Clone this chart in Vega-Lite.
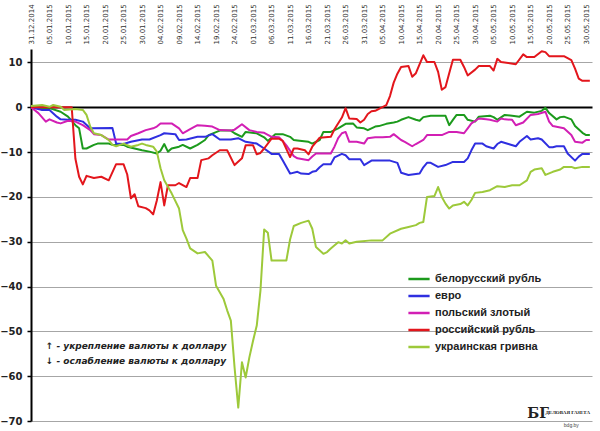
{
  "$schema": "https://vega.github.io/schema/vega-lite/v6.json",
  "description": "Изменение курсов валют к доллару с 31.12.2014 по 31.05.2015, %",
  "width": 561,
  "height": 372,
  "autosize": {"type": "none"},
  "padding": {"left": 31, "top": 49, "right": 8, "bottom": 10},
  "background": "white",
  "config": {"view": {"stroke": null}, "font": "DejaVu Sans"},
  "encoding": {
    "x": {
      "field": "date",
      "type": "temporal",
      "scale": {
        "type": "utc",
        "domain": [
          {"year": 2014, "month": 12, "date": 31, "utc": true},
          {"year": 2015, "month": 5, "date": 31, "hours": 14, "utc": true}
        ]
      },
      "axis": {
        "orient": "top",
        "title": null,
        "format": "%d.%m.%Y",
        "values": [
          {"year": 2014, "month": 12, "date": 31, "utc": true},
          {"year": 2015, "month": 1, "date": 5, "utc": true},
          {"year": 2015, "month": 1, "date": 10, "utc": true},
          {"year": 2015, "month": 1, "date": 15, "utc": true},
          {"year": 2015, "month": 1, "date": 20, "utc": true},
          {"year": 2015, "month": 1, "date": 25, "utc": true},
          {"year": 2015, "month": 1, "date": 30, "utc": true},
          {"year": 2015, "month": 2, "date": 4, "utc": true},
          {"year": 2015, "month": 2, "date": 9, "utc": true},
          {"year": 2015, "month": 2, "date": 14, "utc": true},
          {"year": 2015, "month": 2, "date": 19, "utc": true},
          {"year": 2015, "month": 2, "date": 24, "utc": true},
          {"year": 2015, "month": 3, "date": 1, "utc": true},
          {"year": 2015, "month": 3, "date": 6, "utc": true},
          {"year": 2015, "month": 3, "date": 11, "utc": true},
          {"year": 2015, "month": 3, "date": 16, "utc": true},
          {"year": 2015, "month": 3, "date": 21, "utc": true},
          {"year": 2015, "month": 3, "date": 26, "utc": true},
          {"year": 2015, "month": 3, "date": 31, "utc": true},
          {"year": 2015, "month": 4, "date": 5, "utc": true},
          {"year": 2015, "month": 4, "date": 10, "utc": true},
          {"year": 2015, "month": 4, "date": 15, "utc": true},
          {"year": 2015, "month": 4, "date": 20, "utc": true},
          {"year": 2015, "month": 4, "date": 25, "utc": true},
          {"year": 2015, "month": 4, "date": 30, "utc": true},
          {"year": 2015, "month": 5, "date": 5, "utc": true},
          {"year": 2015, "month": 5, "date": 10, "utc": true},
          {"year": 2015, "month": 5, "date": 15, "utc": true},
          {"year": 2015, "month": 5, "date": 20, "utc": true},
          {"year": 2015, "month": 5, "date": 25, "utc": true},
          {"year": 2015, "month": 5, "date": 30, "utc": true}
        ],
        "labelAngle": 270,
        "labelAlign": "left",
        "labelBaseline": "middle",
        "labelFont": "DejaVu Sans",
        "labelFontSize": 7,
        "labelColor": "#333333",
        "labelPadding": 5,
        "labelOverlap": false,
        "labelFlush": false,
        "domain": false,
        "ticks": false,
        "grid": false
      }
    },
    "y": {
      "field": "value",
      "type": "quantitative",
      "scale": {"domain": [-70, 13], "nice": false, "zero": false},
      "axis": {
        "title": null,
        "values": [-70, -60, -50, -40, -30, -20, -10, 0, 10],
        "labelFont": "DejaVu Sans",
        "labelFontWeight": "bold",
        "labelFontSize": 10,
        "labelColor": "#222222",
        "labelPadding": 5,
        "domainColor": "black",
        "domainWidth": 2,
        "tickColor": "black",
        "tickSize": 4,
        "tickWidth": 1.5,
        "gridColor": {"condition": {"test": "datum.value === 0", "value": "black"}, "value": "#a6a6a6"},
        "gridWidth": {"condition": {"test": "datum.value === 0", "value": 2}, "value": 1}
      }
    }
  },
  "layer": [
    {
      "data": {
        "values": [
          {"date": "2014-12-31", "currency": "белорусский рубль", "value": 0},
          {"date": "2015-01-05", "currency": "белорусский рубль", "value": -0.2},
          {"date": "2015-01-08", "currency": "белорусский рубль", "value": -1},
          {"date": "2015-01-10", "currency": "белорусский рубль", "value": -2.1},
          {"date": "2015-01-12", "currency": "белорусский рубль", "value": -4},
          {"date": "2015-01-13", "currency": "белорусский рубль", "value": -4.7},
          {"date": "2015-01-14", "currency": "белорусский рубль", "value": -9.2},
          {"date": "2015-01-15", "currency": "белорусский рубль", "value": -9.2},
          {"date": "2015-01-17", "currency": "белорусский рубль", "value": -8.4},
          {"date": "2015-01-18", "currency": "белорусский рубль", "value": -8.1},
          {"date": "2015-01-21", "currency": "белорусский рубль", "value": -8.1},
          {"date": "2015-01-22", "currency": "белорусский рубль", "value": -8.4},
          {"date": "2015-01-25", "currency": "белорусский рубль", "value": -8.4},
          {"date": "2015-01-26", "currency": "белорусский рубль", "value": -8.8},
          {"date": "2015-01-28", "currency": "белорусский рубль", "value": -9.2},
          {"date": "2015-01-30", "currency": "белорусский рубль", "value": -9.6},
          {"date": "2015-02-01", "currency": "белорусский рубль", "value": -9.9},
          {"date": "2015-02-03", "currency": "белорусский рубль", "value": -10.3},
          {"date": "2015-02-04", "currency": "белорусский рубль", "value": -9.7},
          {"date": "2015-02-05", "currency": "белорусский рубль", "value": -8.2},
          {"date": "2015-02-06", "currency": "белорусский рубль", "value": -9.9},
          {"date": "2015-02-07", "currency": "белорусский рубль", "value": -9.2},
          {"date": "2015-02-09", "currency": "белорусский рубль", "value": -8.8},
          {"date": "2015-02-10", "currency": "белорусский рубль", "value": -8.4},
          {"date": "2015-02-12", "currency": "белорусский рубль", "value": -9.2},
          {"date": "2015-02-14", "currency": "белорусский рубль", "value": -8.4},
          {"date": "2015-02-16", "currency": "белорусский рубль", "value": -7.3},
          {"date": "2015-02-17", "currency": "белорусский рубль", "value": -6.2},
          {"date": "2015-02-20", "currency": "белорусский рубль", "value": -5.2},
          {"date": "2015-02-23", "currency": "белорусский рубль", "value": -5.2},
          {"date": "2015-02-24", "currency": "белорусский рубль", "value": -5.8},
          {"date": "2015-02-26", "currency": "белорусский рубль", "value": -6.6},
          {"date": "2015-02-27", "currency": "белорусский рубль", "value": -5.5},
          {"date": "2015-03-02", "currency": "белорусский рубль", "value": -5.8},
          {"date": "2015-03-04", "currency": "белорусский рубль", "value": -6.7},
          {"date": "2015-03-05", "currency": "белорусский рубль", "value": -7.5},
          {"date": "2015-03-07", "currency": "белорусский рубль", "value": -6},
          {"date": "2015-03-09", "currency": "белорусский рубль", "value": -6},
          {"date": "2015-03-11", "currency": "белорусский рубль", "value": -6.6},
          {"date": "2015-03-12", "currency": "белорусский рубль", "value": -7.3},
          {"date": "2015-03-13", "currency": "белорусский рубль", "value": -7.4},
          {"date": "2015-03-16", "currency": "белорусский рубль", "value": -7.7},
          {"date": "2015-03-17", "currency": "белорусский рубль", "value": -8.1},
          {"date": "2015-03-19", "currency": "белорусский рубль", "value": -7.3},
          {"date": "2015-03-20", "currency": "белорусский рубль", "value": -5.5},
          {"date": "2015-03-22", "currency": "белорусский рубль", "value": -5.5},
          {"date": "2015-03-24", "currency": "белорусский рубль", "value": -4.7},
          {"date": "2015-03-26", "currency": "белорусский рубль", "value": -3.7},
          {"date": "2015-03-28", "currency": "белорусский рубль", "value": -3.6},
          {"date": "2015-03-29", "currency": "белорусский рубль", "value": -4.5},
          {"date": "2015-03-31", "currency": "белорусский рубль", "value": -4.7},
          {"date": "2015-04-01", "currency": "белорусский рубль", "value": -5.1},
          {"date": "2015-04-03", "currency": "белорусский рубль", "value": -4.3},
          {"date": "2015-04-04", "currency": "белорусский рубль", "value": -4.2},
          {"date": "2015-04-06", "currency": "белорусский рубль", "value": -3.7},
          {"date": "2015-04-08", "currency": "белорусский рубль", "value": -3.4},
          {"date": "2015-04-09", "currency": "белорусский рубль", "value": -3.2},
          {"date": "2015-04-10", "currency": "белорусский рубль", "value": -2.8},
          {"date": "2015-04-12", "currency": "белорусский рубль", "value": -2.2},
          {"date": "2015-04-14", "currency": "белорусский рубль", "value": -2.8},
          {"date": "2015-04-15", "currency": "белорусский рубль", "value": -3.0},
          {"date": "2015-04-16", "currency": "белорусский рубль", "value": -2.2},
          {"date": "2015-04-18", "currency": "белорусский рубль", "value": -1.9},
          {"date": "2015-04-22", "currency": "белорусский рубль", "value": -1.9},
          {"date": "2015-04-23", "currency": "белорусский рубль", "value": -4.0},
          {"date": "2015-04-24", "currency": "белорусский рубль", "value": -2.8},
          {"date": "2015-04-25", "currency": "белорусский рубль", "value": -1.7},
          {"date": "2015-04-27", "currency": "белорусский рубль", "value": -1.7},
          {"date": "2015-04-28", "currency": "белорусский рубль", "value": -2.8},
          {"date": "2015-04-30", "currency": "белорусский рубль", "value": -3.2},
          {"date": "2015-05-01", "currency": "белорусский рубль", "value": -2.1},
          {"date": "2015-05-04", "currency": "белорусский рубль", "value": -1.9},
          {"date": "2015-05-05", "currency": "белорусский рубль", "value": -2.2},
          {"date": "2015-05-06", "currency": "белорусский рубль", "value": -2.8},
          {"date": "2015-05-08", "currency": "белорусский рубль", "value": -1.7},
          {"date": "2015-05-10", "currency": "белорусский рубль", "value": -1.9},
          {"date": "2015-05-12", "currency": "белорусский рубль", "value": -2.1},
          {"date": "2015-05-14", "currency": "белорусский рубль", "value": -1.0},
          {"date": "2015-05-16", "currency": "белорусский рубль", "value": -1.2},
          {"date": "2015-05-18", "currency": "белорусский рубль", "value": -0.8},
          {"date": "2015-05-19", "currency": "белорусский рубль", "value": -0.1},
          {"date": "2015-05-20", "currency": "белорусский рубль", "value": -1.3},
          {"date": "2015-05-22", "currency": "белорусский рубль", "value": -2.7},
          {"date": "2015-05-23", "currency": "белорусский рубль", "value": -2.2},
          {"date": "2015-05-24", "currency": "белорусский рубль", "value": -2.1},
          {"date": "2015-05-26", "currency": "белорусский рубль", "value": -2.7},
          {"date": "2015-05-27", "currency": "белорусский рубль", "value": -4.2},
          {"date": "2015-05-29", "currency": "белорусский рубль", "value": -5.7},
          {"date": "2015-05-30", "currency": "белорусский рубль", "value": -6.2},
          {"date": "2015-05-31", "currency": "белорусский рубль", "value": -6.2},

          {"date": "2014-12-31", "currency": "евро", "value": 0},
          {"date": "2015-01-03", "currency": "евро", "value": -0.6},
          {"date": "2015-01-05", "currency": "евро", "value": -0.6},
          {"date": "2015-01-07", "currency": "евро", "value": -2.1},
          {"date": "2015-01-08", "currency": "евро", "value": -2.7},
          {"date": "2015-01-10", "currency": "евро", "value": -2.8},
          {"date": "2015-01-12", "currency": "евро", "value": -2.8},
          {"date": "2015-01-14", "currency": "евро", "value": -3.2},
          {"date": "2015-01-16", "currency": "евро", "value": -4.7},
          {"date": "2015-01-22", "currency": "евро", "value": -4.6},
          {"date": "2015-01-23", "currency": "евро", "value": -8.1},
          {"date": "2015-01-25", "currency": "евро", "value": -8.2},
          {"date": "2015-01-27", "currency": "евро", "value": -7.7},
          {"date": "2015-01-30", "currency": "евро", "value": -7.2},
          {"date": "2015-02-01", "currency": "евро", "value": -7.2},
          {"date": "2015-02-04", "currency": "евро", "value": -6.2},
          {"date": "2015-02-05", "currency": "евро", "value": -5.8},
          {"date": "2015-02-08", "currency": "евро", "value": -6.0},
          {"date": "2015-02-09", "currency": "евро", "value": -7.3},
          {"date": "2015-02-11", "currency": "евро", "value": -7.2},
          {"date": "2015-02-14", "currency": "евро", "value": -6.6},
          {"date": "2015-02-16", "currency": "евро", "value": -6.6},
          {"date": "2015-02-18", "currency": "евро", "value": -6.0},
          {"date": "2015-02-20", "currency": "евро", "value": -7.2},
          {"date": "2015-02-23", "currency": "евро", "value": -7.2},
          {"date": "2015-02-25", "currency": "евро", "value": -6.9},
          {"date": "2015-02-27", "currency": "евро", "value": -7.7},
          {"date": "2015-03-02", "currency": "евро", "value": -8.1},
          {"date": "2015-03-04", "currency": "евро", "value": -9.2},
          {"date": "2015-03-06", "currency": "евро", "value": -10.4},
          {"date": "2015-03-08", "currency": "евро", "value": -10.4},
          {"date": "2015-03-09", "currency": "евро", "value": -11.8},
          {"date": "2015-03-11", "currency": "евро", "value": -14.8},
          {"date": "2015-03-13", "currency": "евро", "value": -14.4},
          {"date": "2015-03-14", "currency": "евро", "value": -14.8},
          {"date": "2015-03-16", "currency": "евро", "value": -14.9},
          {"date": "2015-03-17", "currency": "евро", "value": -14.4},
          {"date": "2015-03-18", "currency": "евро", "value": -14.2},
          {"date": "2015-03-19", "currency": "евро", "value": -13.4},
          {"date": "2015-03-20", "currency": "евро", "value": -12.7},
          {"date": "2015-03-22", "currency": "евро", "value": -12.7},
          {"date": "2015-03-23", "currency": "евро", "value": -11.2},
          {"date": "2015-03-25", "currency": "евро", "value": -10.4},
          {"date": "2015-03-26", "currency": "евро", "value": -10.7},
          {"date": "2015-03-27", "currency": "евро", "value": -11.6},
          {"date": "2015-03-30", "currency": "евро", "value": -11.6},
          {"date": "2015-03-31", "currency": "евро", "value": -12.9},
          {"date": "2015-04-02", "currency": "евро", "value": -11.9},
          {"date": "2015-04-07", "currency": "евро", "value": -11.9},
          {"date": "2015-04-09", "currency": "евро", "value": -12.4},
          {"date": "2015-04-10", "currency": "евро", "value": -14.6},
          {"date": "2015-04-12", "currency": "евро", "value": -15.1},
          {"date": "2015-04-15", "currency": "евро", "value": -14.8},
          {"date": "2015-04-16", "currency": "евро", "value": -13.4},
          {"date": "2015-04-17", "currency": "евро", "value": -12.4},
          {"date": "2015-04-18", "currency": "евро", "value": -12.4},
          {"date": "2015-04-20", "currency": "евро", "value": -13.3},
          {"date": "2015-04-22", "currency": "евро", "value": -12.9},
          {"date": "2015-04-24", "currency": "евро", "value": -12.2},
          {"date": "2015-04-27", "currency": "евро", "value": -12.2},
          {"date": "2015-04-28", "currency": "евро", "value": -11.4},
          {"date": "2015-04-29", "currency": "евро", "value": -9.6},
          {"date": "2015-04-30", "currency": "евро", "value": -8.1},
          {"date": "2015-05-02", "currency": "евро", "value": -8.1},
          {"date": "2015-05-03", "currency": "евро", "value": -8.7},
          {"date": "2015-05-05", "currency": "евро", "value": -9.2},
          {"date": "2015-05-06", "currency": "евро", "value": -8.2},
          {"date": "2015-05-07", "currency": "евро", "value": -7.7},
          {"date": "2015-05-09", "currency": "евро", "value": -8.2},
          {"date": "2015-05-11", "currency": "евро", "value": -8.7},
          {"date": "2015-05-12", "currency": "евро", "value": -7.7},
          {"date": "2015-05-14", "currency": "евро", "value": -6.4},
          {"date": "2015-05-15", "currency": "евро", "value": -7.2},
          {"date": "2015-05-17", "currency": "евро", "value": -6.9},
          {"date": "2015-05-18", "currency": "евро", "value": -7.2},
          {"date": "2015-05-20", "currency": "евро", "value": -8.9},
          {"date": "2015-05-21", "currency": "евро", "value": -8.9},
          {"date": "2015-05-22", "currency": "евро", "value": -8.7},
          {"date": "2015-05-24", "currency": "евро", "value": -8.7},
          {"date": "2015-05-25", "currency": "евро", "value": -10.3},
          {"date": "2015-05-27", "currency": "евро", "value": -11.9},
          {"date": "2015-05-28", "currency": "евро", "value": -11.0},
          {"date": "2015-05-29", "currency": "евро", "value": -10.4},
          {"date": "2015-05-31", "currency": "евро", "value": -10.4},

          {"date": "2014-12-31", "currency": "польский злотый", "value": 0},
          {"date": "2015-01-02", "currency": "польский злотый", "value": -1.3},
          {"date": "2015-01-04", "currency": "польский злотый", "value": -3.2},
          {"date": "2015-01-05", "currency": "польский злотый", "value": -2.7},
          {"date": "2015-01-07", "currency": "польский злотый", "value": -3.4},
          {"date": "2015-01-08", "currency": "польский злотый", "value": -3.6},
          {"date": "2015-01-10", "currency": "польский злотый", "value": -3.0},
          {"date": "2015-01-12", "currency": "польский злотый", "value": -3.2},
          {"date": "2015-01-14", "currency": "польский злотый", "value": -4.0},
          {"date": "2015-01-16", "currency": "польский злотый", "value": -5.1},
          {"date": "2015-01-17", "currency": "польский злотый", "value": -6.0},
          {"date": "2015-01-19", "currency": "польский злотый", "value": -6.2},
          {"date": "2015-01-21", "currency": "польский злотый", "value": -7.2},
          {"date": "2015-01-26", "currency": "польский злотый", "value": -7.2},
          {"date": "2015-01-27", "currency": "польский злотый", "value": -6.4},
          {"date": "2015-01-29", "currency": "польский злотый", "value": -5.8},
          {"date": "2015-01-31", "currency": "польский злотый", "value": -5.1},
          {"date": "2015-02-02", "currency": "польский злотый", "value": -4.7},
          {"date": "2015-02-03", "currency": "польский злотый", "value": -4.3},
          {"date": "2015-02-04", "currency": "польский злотый", "value": -3.6},
          {"date": "2015-02-07", "currency": "польский злотый", "value": -3.6},
          {"date": "2015-02-09", "currency": "польский злотый", "value": -4.7},
          {"date": "2015-02-10", "currency": "польский злотый", "value": -5.8},
          {"date": "2015-02-12", "currency": "польский злотый", "value": -4.9},
          {"date": "2015-02-14", "currency": "польский злотый", "value": -4.0},
          {"date": "2015-02-16", "currency": "польский злотый", "value": -4.1},
          {"date": "2015-02-18", "currency": "польский злотый", "value": -4.3},
          {"date": "2015-02-20", "currency": "польский злотый", "value": -5.1},
          {"date": "2015-02-23", "currency": "польский злотый", "value": -5.2},
          {"date": "2015-02-24", "currency": "польский злотый", "value": -5.0},
          {"date": "2015-02-26", "currency": "польский злотый", "value": -3.8},
          {"date": "2015-02-28", "currency": "польский злотый", "value": -5.1},
          {"date": "2015-03-02", "currency": "польский злотый", "value": -5.5},
          {"date": "2015-03-04", "currency": "польский злотый", "value": -5.7},
          {"date": "2015-03-06", "currency": "польский злотый", "value": -6.6},
          {"date": "2015-03-08", "currency": "польский злотый", "value": -6.7},
          {"date": "2015-03-09", "currency": "польский злотый", "value": -7.5},
          {"date": "2015-03-10", "currency": "польский злотый", "value": -8.5},
          {"date": "2015-03-12", "currency": "польский злотый", "value": -10.9},
          {"date": "2015-03-13", "currency": "польский злотый", "value": -11.4},
          {"date": "2015-03-16", "currency": "польский злотый", "value": -11.8},
          {"date": "2015-03-17", "currency": "польский злотый", "value": -11.0},
          {"date": "2015-03-18", "currency": "польский злотый", "value": -10.3},
          {"date": "2015-03-22", "currency": "польский злотый", "value": -10.3},
          {"date": "2015-03-23", "currency": "польский злотый", "value": -8.8},
          {"date": "2015-03-24", "currency": "польский злотый", "value": -6.9},
          {"date": "2015-03-25", "currency": "польский злотый", "value": -5.8},
          {"date": "2015-03-26", "currency": "польский злотый", "value": -5.5},
          {"date": "2015-03-27", "currency": "польский злотый", "value": -7.7},
          {"date": "2015-03-29", "currency": "польский злотый", "value": -7.7},
          {"date": "2015-03-31", "currency": "польский злотый", "value": -8.1},
          {"date": "2015-04-01", "currency": "польский злотый", "value": -6.9},
          {"date": "2015-04-03", "currency": "польский злотый", "value": -6.7},
          {"date": "2015-04-05", "currency": "польский злотый", "value": -6.7},
          {"date": "2015-04-07", "currency": "польский злотый", "value": -6.6},
          {"date": "2015-04-08", "currency": "польский злотый", "value": -6.0},
          {"date": "2015-04-10", "currency": "польский злотый", "value": -7.3},
          {"date": "2015-04-11", "currency": "польский злотый", "value": -7.7},
          {"date": "2015-04-13", "currency": "польский злотый", "value": -8.7},
          {"date": "2015-04-14", "currency": "польский злотый", "value": -8.2},
          {"date": "2015-04-16", "currency": "польский злотый", "value": -7.3},
          {"date": "2015-04-17", "currency": "польский злотый", "value": -6.2},
          {"date": "2015-04-21", "currency": "польский злотый", "value": -6.2},
          {"date": "2015-04-23", "currency": "польский злотый", "value": -5.5},
          {"date": "2015-04-25", "currency": "польский злотый", "value": -5.5},
          {"date": "2015-04-27", "currency": "польский злотый", "value": -5.8},
          {"date": "2015-04-28", "currency": "польский злотый", "value": -4.7},
          {"date": "2015-04-29", "currency": "польский злотый", "value": -3.6},
          {"date": "2015-05-01", "currency": "польский злотый", "value": -2.5},
          {"date": "2015-05-03", "currency": "польский злотый", "value": -2.7},
          {"date": "2015-05-04", "currency": "польский злотый", "value": -2.8},
          {"date": "2015-05-06", "currency": "польский злотый", "value": -3.2},
          {"date": "2015-05-07", "currency": "польский злотый", "value": -2.5},
          {"date": "2015-05-08", "currency": "польский злотый", "value": -2.7},
          {"date": "2015-05-10", "currency": "польский злотый", "value": -2.8},
          {"date": "2015-05-11", "currency": "польский злотый", "value": -4.0},
          {"date": "2015-05-13", "currency": "польский злотый", "value": -3.4},
          {"date": "2015-05-15", "currency": "польский злотый", "value": -1.7},
          {"date": "2015-05-17", "currency": "польский злотый", "value": -1.5},
          {"date": "2015-05-19", "currency": "польский злотый", "value": -1.0},
          {"date": "2015-05-20", "currency": "польский злотый", "value": -3.2},
          {"date": "2015-05-21", "currency": "польский злотый", "value": -4.2},
          {"date": "2015-05-23", "currency": "польский злотый", "value": -4.5},
          {"date": "2015-05-24", "currency": "польский злотый", "value": -4.7},
          {"date": "2015-05-26", "currency": "польский злотый", "value": -6.2},
          {"date": "2015-05-27", "currency": "польский злотый", "value": -7.7},
          {"date": "2015-05-29", "currency": "польский злотый", "value": -7.9},
          {"date": "2015-05-30", "currency": "польский злотый", "value": -7.3},
          {"date": "2015-05-31", "currency": "польский злотый", "value": -7.3},

          {"date": "2014-12-31", "currency": "российский рубль", "value": 0},
          {"date": "2015-01-06", "currency": "российский рубль", "value": 0},
          {"date": "2015-01-11", "currency": "российский рубль", "value": 0},
          {"date": "2015-01-12", "currency": "российский рубль", "value": -11.5},
          {"date": "2015-01-13", "currency": "российский рубль", "value": -15.5},
          {"date": "2015-01-14", "currency": "российский рубль", "value": -17.2},
          {"date": "2015-01-15", "currency": "российский рубль", "value": -15.3},
          {"date": "2015-01-17", "currency": "российский рубль", "value": -15.8},
          {"date": "2015-01-19", "currency": "российский рубль", "value": -15.5},
          {"date": "2015-01-21", "currency": "российский рубль", "value": -16.3},
          {"date": "2015-01-23", "currency": "российский рубль", "value": -12.7},
          {"date": "2015-01-25", "currency": "российский рубль", "value": -12.7},
          {"date": "2015-01-26", "currency": "российский рубль", "value": -15},
          {"date": "2015-01-27", "currency": "российский рубль", "value": -20.3},
          {"date": "2015-01-28", "currency": "российский рубль", "value": -19.4},
          {"date": "2015-01-29", "currency": "российский рубль", "value": -22.1},
          {"date": "2015-01-31", "currency": "российский рубль", "value": -22.5},
          {"date": "2015-02-01", "currency": "российский рубль", "value": -23},
          {"date": "2015-02-02", "currency": "российский рубль", "value": -23.9},
          {"date": "2015-02-03", "currency": "российский рубль", "value": -20.8},
          {"date": "2015-02-04", "currency": "российский рубль", "value": -16.7},
          {"date": "2015-02-05", "currency": "российский рубль", "value": -21.9},
          {"date": "2015-02-06", "currency": "российский рубль", "value": -17.4},
          {"date": "2015-02-08", "currency": "российский рубль", "value": -17.4},
          {"date": "2015-02-09", "currency": "российский рубль", "value": -16.9},
          {"date": "2015-02-11", "currency": "российский рубль", "value": -17.8},
          {"date": "2015-02-12", "currency": "российский рубль", "value": -15.8},
          {"date": "2015-02-14", "currency": "российский рубль", "value": -15.8},
          {"date": "2015-02-15", "currency": "российский рубль", "value": -11.8},
          {"date": "2015-02-17", "currency": "российский рубль", "value": -11.4},
          {"date": "2015-02-18", "currency": "российский рубль", "value": -10.7},
          {"date": "2015-02-20", "currency": "российский рубль", "value": -9.6},
          {"date": "2015-02-22", "currency": "российский рубль", "value": -9.6},
          {"date": "2015-02-24", "currency": "российский рубль", "value": -12.9},
          {"date": "2015-02-26", "currency": "российский рубль", "value": -11.4},
          {"date": "2015-02-27", "currency": "российский рубль", "value": -8.5},
          {"date": "2015-03-01", "currency": "российский рубль", "value": -8.5},
          {"date": "2015-03-02", "currency": "российский рубль", "value": -10.5},
          {"date": "2015-03-03", "currency": "российский рубль", "value": -10.2},
          {"date": "2015-03-04", "currency": "российский рубль", "value": -9.2},
          {"date": "2015-03-06", "currency": "российский рубль", "value": -7},
          {"date": "2015-03-08", "currency": "российский рубль", "value": -7},
          {"date": "2015-03-09", "currency": "российский рубль", "value": -7.5},
          {"date": "2015-03-11", "currency": "российский рубль", "value": -11.1},
          {"date": "2015-03-12", "currency": "российский рубль", "value": -9.2},
          {"date": "2015-03-13", "currency": "российский рубль", "value": -9.2},
          {"date": "2015-03-15", "currency": "российский рубль", "value": -9.6},
          {"date": "2015-03-16", "currency": "российский рубль", "value": -10.5},
          {"date": "2015-03-17", "currency": "российский рубль", "value": -8.8},
          {"date": "2015-03-19", "currency": "российский рубль", "value": -6.8},
          {"date": "2015-03-22", "currency": "российский рубль", "value": -6.6},
          {"date": "2015-03-23", "currency": "российский рубль", "value": -4.9},
          {"date": "2015-03-25", "currency": "российский рубль", "value": -2.3},
          {"date": "2015-03-26", "currency": "российский рубль", "value": -0.2},
          {"date": "2015-03-27", "currency": "российский рубль", "value": -2.5},
          {"date": "2015-03-29", "currency": "российский рубль", "value": -2.6},
          {"date": "2015-03-30", "currency": "российский рубль", "value": -3.4},
          {"date": "2015-03-31", "currency": "российский рубль", "value": -2.8},
          {"date": "2015-04-01", "currency": "российский рубль", "value": -1.5},
          {"date": "2015-04-02", "currency": "российский рубль", "value": -0.9},
          {"date": "2015-04-03", "currency": "российский рубль", "value": -0.8},
          {"date": "2015-04-06", "currency": "российский рубль", "value": 0.5},
          {"date": "2015-04-07", "currency": "российский рубль", "value": 2.5},
          {"date": "2015-04-08", "currency": "российский рубль", "value": 5.5},
          {"date": "2015-04-09", "currency": "российский рубль", "value": 7.5},
          {"date": "2015-04-10", "currency": "российский рубль", "value": 9.0},
          {"date": "2015-04-12", "currency": "российский рубль", "value": 9.2},
          {"date": "2015-04-13", "currency": "российский рубль", "value": 6.8},
          {"date": "2015-04-14", "currency": "российский рубль", "value": 7.6},
          {"date": "2015-04-16", "currency": "российский рубль", "value": 11.6},
          {"date": "2015-04-17", "currency": "российский рубль", "value": 10.1},
          {"date": "2015-04-19", "currency": "российский рубль", "value": 10.1},
          {"date": "2015-04-20", "currency": "российский рубль", "value": 7.9},
          {"date": "2015-04-21", "currency": "российский рубль", "value": 3.9},
          {"date": "2015-04-22", "currency": "российский рубль", "value": 4.5},
          {"date": "2015-04-23", "currency": "российский рубль", "value": 7.6},
          {"date": "2015-04-24", "currency": "российский рубль", "value": 10.6},
          {"date": "2015-04-26", "currency": "российский рубль", "value": 10.6},
          {"date": "2015-04-27", "currency": "российский рубль", "value": 9.0},
          {"date": "2015-04-28", "currency": "российский рубль", "value": 7.1},
          {"date": "2015-04-30", "currency": "российский рубль", "value": 8.4},
          {"date": "2015-05-01", "currency": "российский рубль", "value": 9.2},
          {"date": "2015-05-04", "currency": "российский рубль", "value": 9.2},
          {"date": "2015-05-05", "currency": "российский рубль", "value": 8.2},
          {"date": "2015-05-06", "currency": "российский рубль", "value": 10.8},
          {"date": "2015-05-07", "currency": "российский рубль", "value": 10.1},
          {"date": "2015-05-11", "currency": "российский рубль", "value": 9.6},
          {"date": "2015-05-13", "currency": "российский рубль", "value": 11.8},
          {"date": "2015-05-14", "currency": "российский рубль", "value": 11.2},
          {"date": "2015-05-16", "currency": "российский рубль", "value": 11.2},
          {"date": "2015-05-18", "currency": "российский рубль", "value": 12.5},
          {"date": "2015-05-19", "currency": "российский рубль", "value": 12.3},
          {"date": "2015-05-20", "currency": "российский рубль", "value": 11.4},
          {"date": "2015-05-24", "currency": "российский рубль", "value": 11.4},
          {"date": "2015-05-26", "currency": "российский рубль", "value": 10.5},
          {"date": "2015-05-27", "currency": "российский рубль", "value": 8.6},
          {"date": "2015-05-28", "currency": "российский рубль", "value": 6.4},
          {"date": "2015-05-29", "currency": "российский рубль", "value": 5.9},
          {"date": "2015-05-31", "currency": "российский рубль", "value": 5.9},

          {"date": "2014-12-31", "currency": "украинская гривна", "value": 0.3},
          {"date": "2015-01-03", "currency": "украинская гривна", "value": 0.5},
          {"date": "2015-01-05", "currency": "украинская гривна", "value": 0.1},
          {"date": "2015-01-06", "currency": "украинская гривна", "value": 0.5},
          {"date": "2015-01-08", "currency": "украинская гривна", "value": 0.1},
          {"date": "2015-01-09", "currency": "украинская гривна", "value": -0.6},
          {"date": "2015-01-12", "currency": "украинская гривна", "value": -0.4},
          {"date": "2015-01-14", "currency": "украинская гривна", "value": -0.6},
          {"date": "2015-01-15", "currency": "украинская гривна", "value": -1.7},
          {"date": "2015-01-16", "currency": "украинская гривна", "value": -4.3},
          {"date": "2015-01-17", "currency": "украинская гривна", "value": -5.8},
          {"date": "2015-01-19", "currency": "украинская гривна", "value": -6.2},
          {"date": "2015-01-21", "currency": "украинская гривна", "value": -7.3},
          {"date": "2015-01-22", "currency": "украинская гривна", "value": -8.4},
          {"date": "2015-01-23", "currency": "украинская гривна", "value": -8.7},
          {"date": "2015-01-25", "currency": "украинская гривна", "value": -8.1},
          {"date": "2015-01-27", "currency": "украинская гривна", "value": -8.8},
          {"date": "2015-01-29", "currency": "украинская гривна", "value": -8.4},
          {"date": "2015-01-30", "currency": "украинская гривна", "value": -8.1},
          {"date": "2015-01-31", "currency": "украинская гривна", "value": -8.4},
          {"date": "2015-02-02", "currency": "украинская гривна", "value": -8.8},
          {"date": "2015-02-03", "currency": "украинская гривна", "value": -9.9},
          {"date": "2015-02-04", "currency": "украинская гривна", "value": -13.6},
          {"date": "2015-02-05", "currency": "украинская гривна", "value": -16.3},
          {"date": "2015-02-07", "currency": "украинская гривна", "value": -19.2},
          {"date": "2015-02-09", "currency": "украинская гривна", "value": -22.6},
          {"date": "2015-02-10", "currency": "украинская гривна", "value": -27.4},
          {"date": "2015-02-11", "currency": "украинская гривна", "value": -29.3},
          {"date": "2015-02-12", "currency": "украинская гривна", "value": -31.5},
          {"date": "2015-02-14", "currency": "украинская гривна", "value": -32.6},
          {"date": "2015-02-16", "currency": "украинская гривна", "value": -32.3},
          {"date": "2015-02-18", "currency": "украинская гривна", "value": -34.2},
          {"date": "2015-02-19", "currency": "украинская гривна", "value": -39.8},
          {"date": "2015-02-21", "currency": "украинская гривна", "value": -42.7},
          {"date": "2015-02-22", "currency": "украинская гривна", "value": -45.3},
          {"date": "2015-02-23", "currency": "украинская гривна", "value": -47.6},
          {"date": "2015-02-24", "currency": "украинская гривна", "value": -58.0},
          {"date": "2015-02-25", "currency": "украинская гривна", "value": -67.0},
          {"date": "2015-02-26", "currency": "украинская гривна", "value": -56.9},
          {"date": "2015-02-27", "currency": "украинская гривна", "value": -60.3},
          {"date": "2015-02-28", "currency": "украинская гривна", "value": -55.8},
          {"date": "2015-03-01", "currency": "украинская гривна", "value": -52.1},
          {"date": "2015-03-02", "currency": "украинская гривна", "value": -48.7},
          {"date": "2015-03-03", "currency": "украинская гривна", "value": -40.9},
          {"date": "2015-03-04", "currency": "украинская гривна", "value": -27.3},
          {"date": "2015-03-05", "currency": "украинская гривна", "value": -28.0},
          {"date": "2015-03-06", "currency": "украинская гривна", "value": -34.2},
          {"date": "2015-03-10", "currency": "украинская гривна", "value": -34.2},
          {"date": "2015-03-11", "currency": "украинская гривна", "value": -29.5},
          {"date": "2015-03-12", "currency": "украинская гривна", "value": -26.5},
          {"date": "2015-03-14", "currency": "украинская гривна", "value": -25.8},
          {"date": "2015-03-16", "currency": "украинская гривна", "value": -25.3},
          {"date": "2015-03-17", "currency": "украинская гривна", "value": -27.1},
          {"date": "2015-03-18", "currency": "украинская гривна", "value": -31.2},
          {"date": "2015-03-20", "currency": "украинская гривна", "value": -32.7},
          {"date": "2015-03-21", "currency": "украинская гривна", "value": -32.3},
          {"date": "2015-03-22", "currency": "украинская гривна", "value": -31.5},
          {"date": "2015-03-24", "currency": "украинская гривна", "value": -30.1},
          {"date": "2015-03-25", "currency": "украинская гривна", "value": -30.4},
          {"date": "2015-03-26", "currency": "украинская гривна", "value": -29.7},
          {"date": "2015-03-27", "currency": "украинская гривна", "value": -30.4},
          {"date": "2015-03-29", "currency": "украинская гривна", "value": -30.0},
          {"date": "2015-04-02", "currency": "украинская гривна", "value": -29.7},
          {"date": "2015-04-05", "currency": "украинская гривна", "value": -29.7},
          {"date": "2015-04-07", "currency": "украинская гривна", "value": -28.2},
          {"date": "2015-04-10", "currency": "украинская гривна", "value": -27.1},
          {"date": "2015-04-12", "currency": "украинская гривна", "value": -26.7},
          {"date": "2015-04-14", "currency": "украинская гривна", "value": -26.3},
          {"date": "2015-04-15", "currency": "украинская гривна", "value": -25.8},
          {"date": "2015-04-16", "currency": "украинская гривна", "value": -25.6},
          {"date": "2015-04-17", "currency": "украинская гривна", "value": -20.0},
          {"date": "2015-04-19", "currency": "украинская гривна", "value": -19.8},
          {"date": "2015-04-20", "currency": "украинская гривна", "value": -17.8},
          {"date": "2015-04-21", "currency": "украинская гривна", "value": -20.0},
          {"date": "2015-04-22", "currency": "украинская гривна", "value": -21.5},
          {"date": "2015-04-23", "currency": "украинская гривна", "value": -22.6},
          {"date": "2015-04-24", "currency": "украинская гривна", "value": -21.9},
          {"date": "2015-04-26", "currency": "украинская гривна", "value": -21.6},
          {"date": "2015-04-27", "currency": "украинская гривна", "value": -21.1},
          {"date": "2015-04-28", "currency": "украинская гривна", "value": -21.9},
          {"date": "2015-04-29", "currency": "украинская гривна", "value": -20.7},
          {"date": "2015-04-30", "currency": "украинская гривна", "value": -19.1},
          {"date": "2015-05-02", "currency": "украинская гривна", "value": -18.9},
          {"date": "2015-05-04", "currency": "украинская гривна", "value": -18.5},
          {"date": "2015-05-06", "currency": "украинская гривна", "value": -17.6},
          {"date": "2015-05-08", "currency": "украинская гривна", "value": -17.8},
          {"date": "2015-05-10", "currency": "украинская гривна", "value": -17.4},
          {"date": "2015-05-12", "currency": "украинская гривна", "value": -17.4},
          {"date": "2015-05-14", "currency": "украинская гривна", "value": -16.3},
          {"date": "2015-05-15", "currency": "украинская гривна", "value": -14.4},
          {"date": "2015-05-16", "currency": "украинская гривна", "value": -13.9},
          {"date": "2015-05-18", "currency": "украинская гривна", "value": -13.6},
          {"date": "2015-05-19", "currency": "украинская гривна", "value": -15.1},
          {"date": "2015-05-21", "currency": "украинская гривна", "value": -14.4},
          {"date": "2015-05-23", "currency": "украинская гривна", "value": -13.9},
          {"date": "2015-05-24", "currency": "украинская гривна", "value": -13.3},
          {"date": "2015-05-26", "currency": "украинская гривна", "value": -13.3},
          {"date": "2015-05-27", "currency": "украинская гривна", "value": -13.6},
          {"date": "2015-05-29", "currency": "украинская гривна", "value": -13.3},
          {"date": "2015-05-31", "currency": "украинская гривна", "value": -13.3}
        ]
      },
      "mark": {"type": "line", "strokeWidth": 2, "strokeJoin": "round"},
      "encoding": {
        "color": {
          "field": "currency",
          "type": "nominal",
          "scale": {
            "domain": ["белорусский рубль", "евро", "польский злотый", "российский рубль", "украинская гривна"],
            "range": ["#1c9a1c", "#2f2fe0", "#d21fb4", "#e3161c", "#9dc93a"]
          },
          "legend": {
            "orient": "none",
            "legendX": 376,
            "legendY": 218,
            "title": null,
            "symbolType": "stroke",
            "symbolStrokeWidth": 2.5,
            "symbolSize": 450,
            "labelFont": "Liberation Sans",
            "labelFontSize": 11,
            "labelFontWeight": "bold",
            "labelColor": "#222222",
            "labelOffset": 4,
            "rowPadding": 0,
            "padding": 0
          }
        }
      }
    },
    {
      "data": {
        "values": [
          {"date": "2015-01-04", "value": -53.3, "text": "↑ - укрепление  валюты к доллару"},
          {"date": "2015-01-04", "value": -56.6, "text": "↓ - ослабление  валюты к доллару"}
        ]
      },
      "mark": {"type": "text", "align": "left", "baseline": "middle", "font": "DejaVu Sans", "fontSize": 9, "fontStyle": "italic", "fontWeight": "bold", "color": "#222222"},
      "encoding": {"text": {"field": "text"}}
    },
    {
      "data": {"values": [{"date": "2015-05-17", "value": -68.4, "text": "БГ"}]},
      "mark": {"type": "text", "align": "center", "baseline": "middle", "font": "DejaVu Serif", "fontSize": 14, "fontWeight": "bold", "color": "#222222"},
      "encoding": {"text": {"field": "text"}}
    },
    {
      "data": {"values": [{"date": "2015-05-19", "value": -67.9, "text": "ДЕЛОВАЯ ГАЗЕТА"}]},
      "mark": {"type": "text", "align": "left", "baseline": "middle", "font": "Liberation Serif", "fontSize": 5, "fontWeight": "bold", "color": "#222222"},
      "encoding": {"text": {"field": "text"}}
    },
    {
      "data": {"values": [{"date": "2015-05-26", "value": -71, "text": "bdg.by"}]},
      "mark": {"type": "text", "align": "center", "baseline": "middle", "font": "Liberation Sans", "fontSize": 5, "color": "#444444"},
      "encoding": {"text": {"field": "text"}}
    }
  ]
}
